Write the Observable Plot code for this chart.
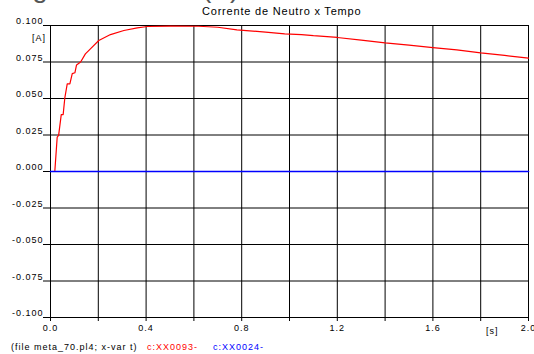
<!DOCTYPE html>
<html><head><meta charset="utf-8">
<script src="https://cdn.jsdelivr.net/npm/d3@7"></script>
<script src="https://cdn.jsdelivr.net/npm/@observablehq/plot@0.6"></script>
<style>
body{margin:0;background:#fff;font-family:"Liberation Sans",Arial,sans-serif;}
#wrap{position:relative;width:534px;height:354px;overflow:hidden;background:#fff;}
#wrap svg{position:absolute;left:0;top:0;}
.t{position:absolute;white-space:nowrap;line-height:1;}
</style>
</head><body>
<div id="wrap"></div>
<script>
// red series: c:XX0093- (current, A) vs time (s)
const timeRed = [0, 0.018, 0.028, 0.034, 0.045, 0.053, 0.060, 0.070, 0.081, 0.091, 0.102, 0.109, 0.126, 0.146, 0.167, 0.202, 0.251, 0.307, 0.363, 0.405, 0.5, 0.62, 0.7, 0.78, 0.9, 0.98, 1.05, 1.1, 1.2, 1.3, 1.4, 1.5, 1.6, 1.7, 1.8, 1.9, 2.0];
const currentRed = [0, 0, 0.0235, 0.0247, 0.039, 0.039, 0.0505, 0.060, 0.060, 0.067, 0.0676, 0.073, 0.075, 0.0806, 0.084, 0.0897, 0.0938, 0.0966, 0.0984, 0.0993, 0.0996, 0.0995, 0.0988, 0.0970, 0.0955, 0.0943, 0.0938, 0.0930, 0.0918, 0.0900, 0.0881, 0.0866, 0.0849, 0.0833, 0.0812, 0.0795, 0.0777];
// blue series: c:XX0024-
const timeBlue = [0, 2.0];
const currentBlue = [0, 0];

const xGridTicks = [0, 0.2, 0.4, 0.6, 0.8, 1.0, 1.2, 1.4, 1.6, 1.8, 2.0];
const xLabelTicks = [0, 0.4, 0.8, 1.2, 1.6, 2.0];
const yTicks = [-0.1, -0.075, -0.05, -0.025, 0, 0.025, 0.05, 0.075, 0.1];

const red = timeRed.map((t, i) => ({t, v: currentRed[i]}));
const blue = timeBlue.map((t, i) => ({t, v: currentBlue[i]}));

const chart = Plot.plot({
  width: 534, height: 354,
  marginLeft: 50, marginRight: 6, marginTop: 25, marginBottom: 37,
  style: "font-family:'Liberation Sans',Arial,sans-serif;font-size:9px;letter-spacing:1px;background:transparent;overflow:visible;color:#000",
  x: {domain: [0, 2], label: null},
  y: {domain: [-0.1, 0.1], label: null},
  marks: [
    Plot.gridX(xGridTicks, {stroke: "#000", strokeOpacity: 1}),
    Plot.gridY(yTicks, {stroke: "#000", strokeOpacity: 1}),
    Plot.axisX(xGridTicks, {tickSize: 4, tickFormat: () => "", stroke: "#000", label: null}),
    Plot.axisX(xLabelTicks, {tickSize: 0, tickPadding: 7, tickFormat: d => d.toFixed(1), fill: "#000", label: null}),
    Plot.axisY(yTicks, {tickSize: 7, tickFormat: () => "", stroke: "#000", label: null}),
    Plot.axisY(yTicks, {tickSize: 0, tickPadding: 7, dy: -4, tickFormat: d => d.toFixed(3), fill: "#000", label: null}),
    Plot.frame({stroke: "#000"}),
    Plot.line(red, {x: "t", y: "v", stroke: "#ff0000", strokeWidth: 1.2}),
    Plot.line(blue, {x: "t", y: "v", stroke: "#0000ff", strokeWidth: 1.6})
  ]
});
const wrap = document.getElementById("wrap");
wrap.appendChild(chart);

function addText(txt, left, top, size, color, extra) {
  const d = document.createElement("div");
  d.className = "t";
  d.textContent = txt;
  d.style.left = left + "px";
  d.style.top = top + "px";
  d.style.fontSize = size + "px";
  d.style.color = color;
  if (extra) Object.assign(d.style, extra);
  wrap.appendChild(d);
  return d;
}
addText("Sinal ao longo do sensor (A)", -114, -26, 28, "#555");
addText("Corrente de Neutro x Tempo", 202, 6, 11, "#000", {letterSpacing: "0.8px"});
addText("[A]", 32, 34, 9, "#000", {letterSpacing: "1px"});
addText("[s]", 486, 327, 9, "#000", {letterSpacing: "1px"});
addText("(file meta_70.pl4; x-var t)", 11, 343, 9, "#000", {letterSpacing: "1px"});
addText("c:XX0093-", 147, 343, 9, "#ff0000", {letterSpacing: "1px"});
addText("c:XX0024-", 213, 343, 9, "#0000ff", {letterSpacing: "1px"});
</script>
</body></html>
